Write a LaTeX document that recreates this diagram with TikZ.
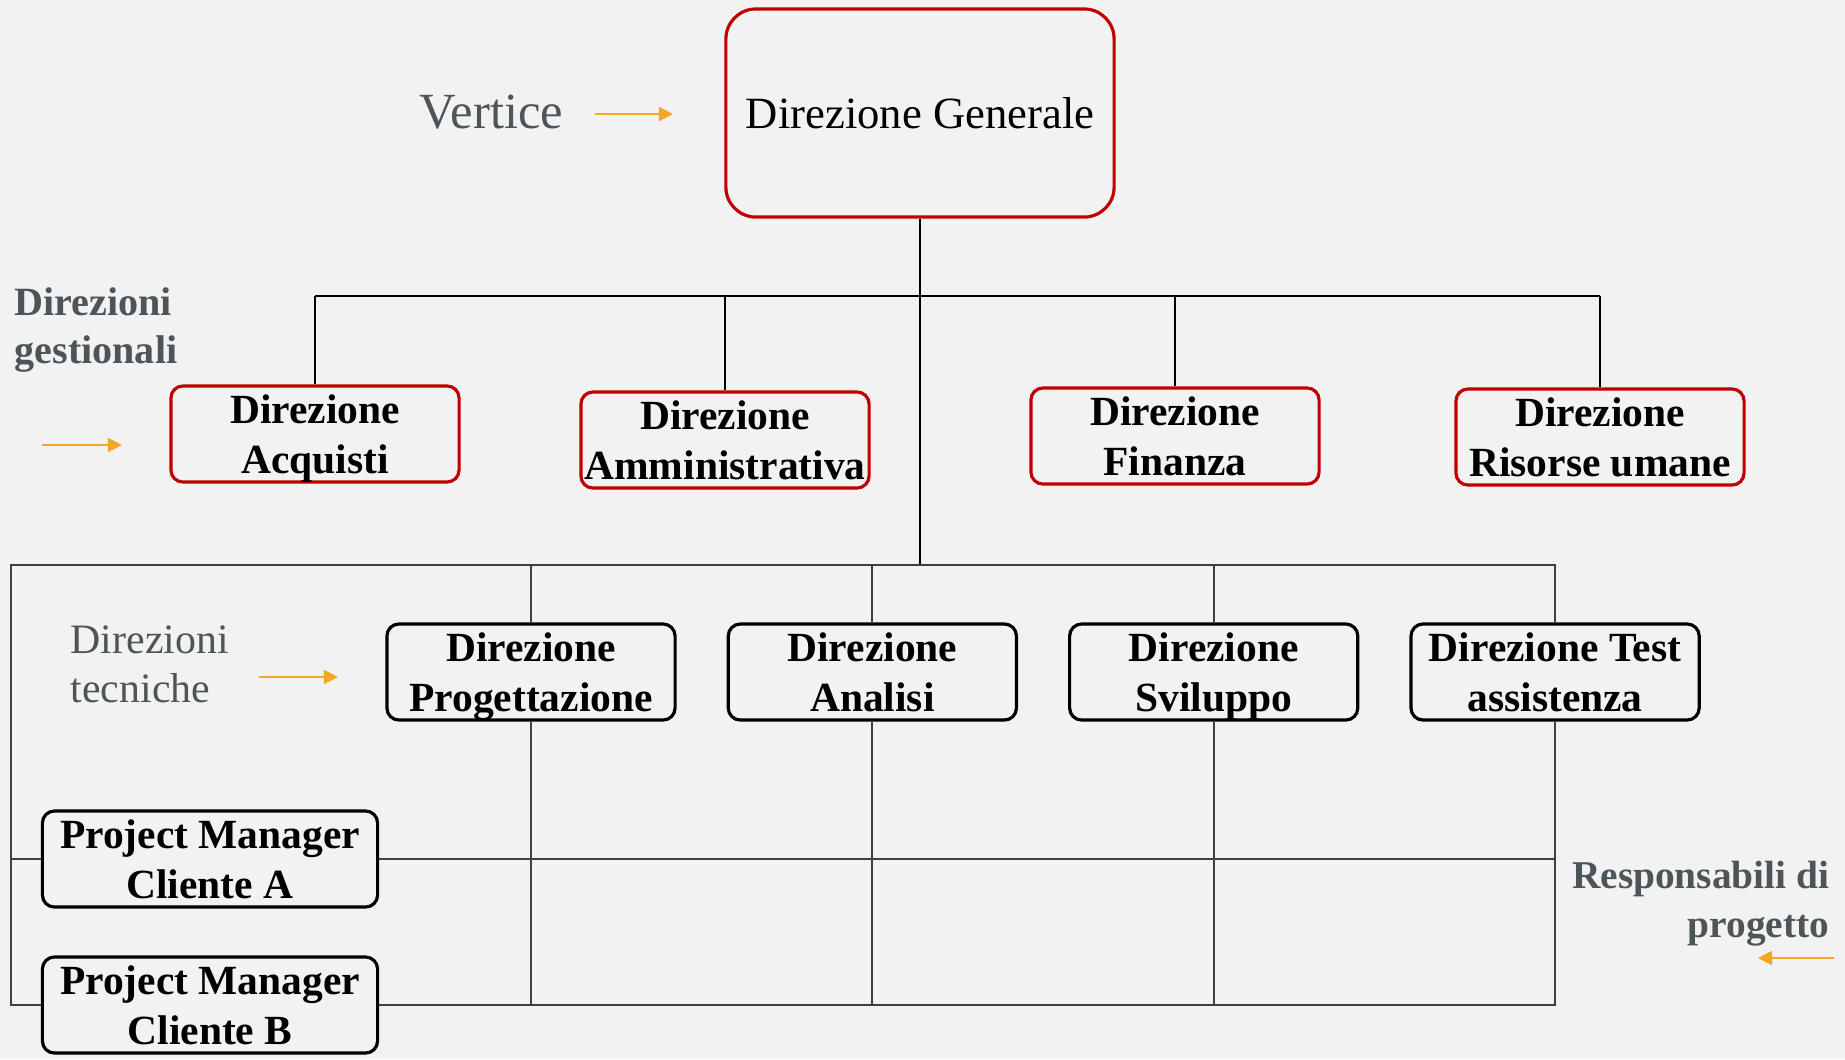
\documentclass[tikz,border=0pt]{standalone}
\usepackage{fontspec}
\setmainfont{Liberation Serif}
\usetikzlibrary{positioning,arrows.meta}
\definecolor{sfondo}{RGB}{242,242,242}
\definecolor{rosso}{RGB}{192,0,0}
\definecolor{grigio}{RGB}{77,85,88}
\definecolor{arancio}{RGB}{245,166,35}
\tikzstyle{ufficio} = [draw, fill=sfondo, rounded corners=0.12cm, line width=0.9pt,
    minimum width=2.88cm, minimum height=0.96cm, inner sep=0pt, align=center,
    text depth=0pt, font=\bfseries\fontsize{11.8}{14.3}\selectfont]
\tikzstyle{gestione} = [ufficio, draw=rosso]
\tikzstyle{tecnica} = [ufficio, draw=black]
\tikzstyle{linea} = [draw=black, line width=0.4pt]
\tikzstyle{griglia} = [draw=black!75, line width=0.55pt]
\tikzstyle{freccia} = [draw=arancio, line width=0.6pt, -{Triangle[length=4pt,width=4pt]}]

\begin{document}
\begin{tikzpicture}[x=0.01cm, y=-0.01cm, node distance=0.5cm]
    \fill[sfondo] (0,0) rectangle (1845,1059);
    \useasboundingbox (0,0) rectangle (1845,1059);
    \tikzstyle{nota} = [text=grigio, inner sep=0pt, font=\fontsize{11.2}{13.7}\selectfont]

    \node[draw=rosso, fill=sfondo, rounded corners=0.3cm, line width=0.9pt,
          minimum width=3.88cm, minimum height=2.08cm,
          font=\fontsize{12.7}{15}\selectfont] (generale) at (920,113) {Direzione Generale};

    \node[gestione] (acquisti) at (315,434) {Direzione\\Acquisti};
    \node[gestione] (amministrativa) at (725,440) {Direzione\\Amministrativa};
    \node[gestione] (finanza) at (1175,436) {Direzione\\Finanza};
    \node[gestione] (risorse) at (1600,437) {Direzione\\Risorse umane};

    \node[tecnica] (progettazione) at (531,672) {Direzione\\Progettazione};
    \node[tecnica, right=of progettazione] (analisi) {Direzione\\Analisi};
    \node[tecnica, right=of analisi] (sviluppo) {Direzione\\Sviluppo};
    \node[tecnica, right=of sviluppo] (test) {Direzione Test\\assistenza};

    \node[tecnica, minimum width=3.35cm] (clienteA) at (210,859) {Project Manager\\Cliente A};
    \node[tecnica, minimum width=3.35cm] (clienteB) at (210,1005) {Project Manager\\Cliente B};

    \node[nota, anchor=west, font=\fontsize{14.4}{17}\selectfont] (vertice) at (419,112) {Vertice};
    \node[nota, anchor=west, align=left, font=\bfseries\fontsize{11.4}{13.7}\selectfont] (gestionali) at (14,330) {Direzioni\\gestionali};
    \node[nota, anchor=west, align=left, font=\fontsize{11.9}{13.9}\selectfont] (tecniche) at (70,664) {Direzioni\\tecniche};
    \node[nota, anchor=east, align=right, font=\bfseries\fontsize{11.2}{13.9}\selectfont] (responsabili) at (1830,904) {Responsabili di\\progetto};

    % linee di staff
    \coordinate (snodo) at (920,296);
    \coordinate (angolo) at (11,565);
    \draw[linea] (generale.south) -- (generale.south |- angolo);
    \draw[linea] (acquisti.north |- snodo) -- (risorse.north |- snodo);
    \foreach \n in {acquisti, amministrativa, finanza, risorse}
        \draw[linea] (\n.north) -- (\n.north |- snodo);

    % matrice
    \draw[griglia] (clienteB.west) -- (clienteB.west -| angolo) -- (angolo)
        -- (angolo -| test.north) -- (test.north);
    \draw[griglia] (test.south) -- (test.south |- clienteB) -- (clienteB.east);
    \draw[griglia] (clienteA.west) -- (clienteA.west -| angolo);
    \draw[griglia] (clienteA.east) -- (clienteA.east -| test);
    \foreach \n in {progettazione, analisi, sviluppo} {
        \draw[griglia] (\n.north) -- (\n.north |- angolo);
        \draw[griglia] (\n.south) -- (\n.south |- clienteB);
    }

    % frecce
    \coordinate (v1) at (595,114);  \coordinate (v2) at (673,114);
    \coordinate (g1) at (42,445);   \coordinate (g2) at (122,445);
    \coordinate (t1) at (259,677);  \coordinate (t2) at (338,677);
    \coordinate (r1) at (1834,958); \coordinate (r2) at (1758,958);
    \draw[freccia] (v1) -- (v2);
    \draw[freccia] (g1) -- (g2);
    \draw[freccia] (t1) -- (t2);
    \draw[freccia] (r1) -- (r2);
\end{tikzpicture}
\end{document}
